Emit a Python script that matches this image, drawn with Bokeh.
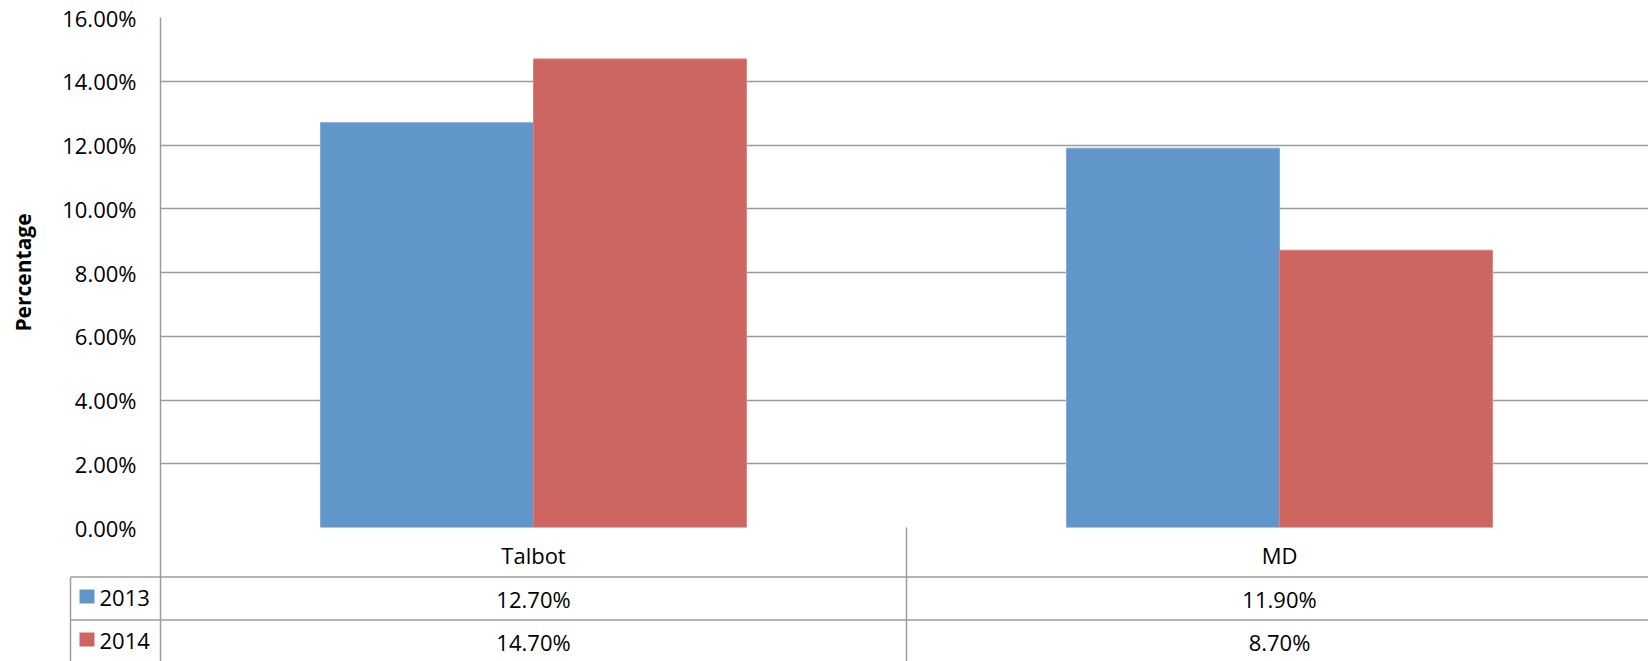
from bokeh.plotting import figure
from bokeh.models import Range1d, FixedTicker, NumeralTickFormatter, ColumnDataSource
from bokeh.transform import dodge
from bokeh.embed import file_html
from bokeh.resources import INLINE
from bokeh.core.properties import value

# ---- data ----
categories = ["Talbot", "MD"]
series_names = ["2013", "2014"]
values_2013 = [0.127, 0.119]
values_2014 = [0.147, 0.087]
y_ticks = [0.0, 0.02, 0.04, 0.06, 0.08, 0.10, 0.12, 0.14, 0.16]

# ---- style ----
BLUE = "#6096CA"
RED = "#CD6660"
LINE = "#9C9C9C"
FONT = "Open Sans"
FS = "22px"

W, H = 1648, 661
ORIGIN = 0  # bokeh's page template has no body margin
# page coordinates of the plot frame
FRAME_L, FRAME_R, FRAME_T, FRAME_B = 160, ORIGIN + W, 17, 527
CAT_PX = 746.0
X_END = (FRAME_R - FRAME_L) / CAT_PX
Y_END = 0.16
BAR_W = 0.2855
TEXT_DY = 9  # raise table texts (px)


def xd(px):
    return (px - FRAME_L) / CAT_PX


def yd(px):
    return (FRAME_B - px) / (FRAME_B - FRAME_T) * Y_END


p = figure(width=W, height=H, output_backend="svg", toolbar_location=None,
           x_range=Range1d(0, X_END), y_range=Range1d(0, Y_END),
           x_axis_location=None,
           min_border_left=FRAME_L - ORIGIN, min_border_top=FRAME_T - ORIGIN,
           min_border_right=0, min_border_bottom=H - (FRAME_B - ORIGIN))
p.outline_line_color = None
p.background_fill_color = "white"
p.border_fill_color = "white"

ax = p.yaxis[0]
ax.ticker = FixedTicker(ticks=y_ticks)
ax.formatter = NumeralTickFormatter(format="0.00%")
ax.major_label_text_font = FONT
ax.major_label_text_font_size = FS
ax.major_label_text_color = "#000000"
ax.major_tick_line_color = None
ax.minor_tick_line_color = None
ax.major_tick_out = 0
ax.major_label_standoff = 24
ax.axis_line_color = LINE
ax.axis_line_width = 1.5
ax.axis_label = "Percentage"
ax.axis_label_text_font = FONT
ax.axis_label_text_font_size = "21px"
ax.axis_label_text_font_style = "bold"
ax.axis_label_text_color = "#000000"
ax.axis_label_standoff = 22

p.xgrid.grid_line_color = None
p.ygrid.grid_line_color = LINE
p.ygrid.grid_line_width = 1.5

src = ColumnDataSource(dict(
    x=[i + 0.5 for i in range(len(categories))],
    cat=categories,
    v13=values_2013,
    v14=values_2014,
    t13=[f"{v*100:.2f}%" for v in values_2013],
    t14=[f"{v*100:.2f}%" for v in values_2014],
))

p.vbar(x=dodge("x", -BAR_W / 2), top="v13", bottom=0, width=BAR_W, source=src,
       fill_color=BLUE, line_color="#7FAAD5", line_width=1)
p.vbar(x=dodge("x", BAR_W / 2), top="v14", bottom=0, width=BAR_W, source=src,
       fill_color=RED, line_color="#D9847E", line_width=1)

# ---- data table below the plot ----
ROW1, ROW2, ROW_END = 576.5, 619.5, 690
LEG_L = 70
hx0 = [xd(LEG_L), xd(LEG_L)]
hx1 = [X_END, X_END]
hy = [yd(ROW1), yd(ROW2)]
p.segment(x0=hx0, y0=hy, x1=hx1, y1=hy, line_color=LINE, line_width=1.5, level="overlay")
vx = [xd(LEG_L), 0.0] + [float(i) for i in range(1, len(categories))]
vy0 = [yd(ROW1), 0.0] + [0.0] * (len(categories) - 1)
vy1 = [yd(ROW_END)] * len(vx)
p.segment(x0=vx, y0=vy0, x1=vx, y1=vy1, line_color=LINE, line_width=1.5, level="overlay")

txt = dict(text_font=value(FONT), text_font_size=FS, text_color="#000000",
           text_align="center", text_baseline="alphabetic", level="overlay")
p.text(x="x", y=yd(563.5 - TEXT_DY), text="cat", source=src, **txt)
p.text(x="x", y=yd(607.5 - TEXT_DY), text="t13", source=src, **txt)
p.text(x="x", y=yd(650.5 - TEXT_DY), text="t14", source=src, **txt)

# legend keys: short thick segments (15 x 14 px squares)
sq_y = [yd(596), yd(639)]
p.segment(x0=[xd(79)] * 2, y0=sq_y, x1=[xd(94)] * 2, y1=sq_y,
          line_color=[BLUE, RED], line_width=14, line_cap="butt", level="overlay")
leg = dict(text_font=value(FONT), text_font_size=FS, text_color="#000000",
           text_align="left", text_baseline="alphabetic", level="overlay")
p.text(x=[xd(99)] * 2, y=[yd(606 - TEXT_DY), yd(649 - TEXT_DY)], text=series_names, **leg)

open("out.html", "w").write(file_html(p, INLINE))
